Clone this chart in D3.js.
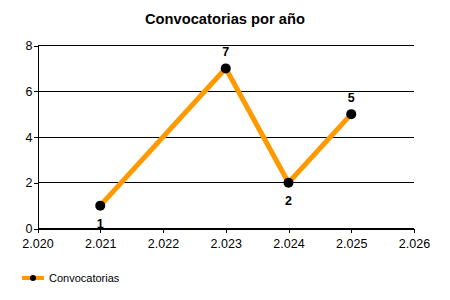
<!DOCTYPE html>
<html>
<head>
<meta charset="utf-8">
<script src="https://cdn.jsdelivr.net/npm/d3@7"></script>
<style>
  body { margin: 0; background: #fff; }
  text { font-family: Arial, "Liberation Sans", sans-serif; }
</style>
</head>
<body>
<script>
// data
var years = [2.021, 2.023, 2.024, 2.025];
var values = [1, 7, 2, 5];
var xTicks = [2.020, 2.021, 2.022, 2.023, 2.024, 2.025, 2.026];
var yTicks = [0, 2, 4, 6, 8];
var seriesName = "Convocatorias";
var title = "Convocatorias por año";

// margin
var margin = {top: 45.5, right: 36, bottom: 71.5, left: 37.5},
    W = 450, H = 300,
    width = W - margin.left - margin.right,
    height = H - margin.top - margin.bottom;

var svg = d3.select("body").append("svg")
    .attr("width", W)
    .attr("height", H);

svg.append("text")
    .attr("x", 225)
    .attr("y", 24)
    .attr("text-anchor", "middle")
    .style("font-size", "14.7px")
    .style("font-weight", "bold")
    .text(title);

var g = svg.append("g")
    .attr("transform", "translate(" + margin.left + "," + margin.top + ")");

var x = d3.scaleLinear().domain([2.020, 2.026]).range([0, width]);
var y = d3.scaleLinear().domain([0, 8]).range([height, 0]);

// gridlines
g.selectAll(".grid")
    .data(yTicks)
  .enter().append("line")
    .attr("x1", 0)
    .attr("x2", width)
    .attr("y1", function(d) { return y(d); })
    .attr("y2", function(d) { return y(d); })
    .attr("stroke", "#000")
    .attr("shape-rendering", "crispEdges");

// axes
var xAxis = g.append("g")
    .attr("transform", "translate(0," + height + ")")
    .call(d3.axisBottom(x).tickValues(xTicks).tickFormat(d3.format(".3f")).tickSize(4).tickSizeOuter(0));
var yAxis = g.append("g")
    .call(d3.axisLeft(y).tickValues(yTicks).tickSize(4).tickSizeOuter(0));

[xAxis, yAxis].forEach(function(a) {
  a.selectAll("path, line").attr("stroke", "#000").attr("shape-rendering", "crispEdges");
  a.selectAll("text").attr("fill", "#000").style("font-size", "12.5px").style("font-family", "Arial, 'Liberation Sans', sans-serif");
});
xAxis.selectAll("text").attr("dy", "0.95em").attr("y", 8);
yAxis.selectAll("text").attr("x", -5);

// line
var line = d3.line()
    .x(function(d, i) { return x(years[i]); })
    .y(function(d) { return y(d); });

g.append("path")
    .datum(values)
    .attr("d", line)
    .attr("fill", "none")
    .attr("stroke", "#FF9900")
    .attr("stroke-width", 5);

g.selectAll(".dot")
    .data(values)
  .enter().append("circle")
    .attr("cx", function(d, i) { return x(years[i]); })
    .attr("cy", function(d) { return y(d); })
    .attr("r", 5)
    .attr("fill", "#000");

// labels above peaks, below troughs
g.selectAll(".lbl")
    .data(values)
  .enter().append("text")
    .attr("x", function(d, i) { return x(years[i]); })
    .attr("y", function(d, i) {
      var nb = [];
      if (i > 0) nb.push(values[i - 1]);
      if (i < values.length - 1) nb.push(values[i + 1]);
      var below = d < d3.mean(nb);
      return y(d) + (below ? 22 : -12);
    })
    .attr("text-anchor", "middle")
    .style("font-size", "12.5px")
    .style("font-weight", "bold")
    .text(function(d) { return d; });

// legend
var lg = svg.append("g").attr("transform", "translate(0,278)");
lg.append("line")
    .attr("x1", 22).attr("x2", 44)
    .attr("stroke", "#FF9900").attr("stroke-width", 4);
lg.append("circle").attr("cx", 33).attr("r", 3).attr("fill", "#000");
lg.append("text")
    .attr("x", 49).attr("dy", "0.35em")
    .style("font-size", "11px")
    .text(seriesName);
</script>
</body>
</html>
